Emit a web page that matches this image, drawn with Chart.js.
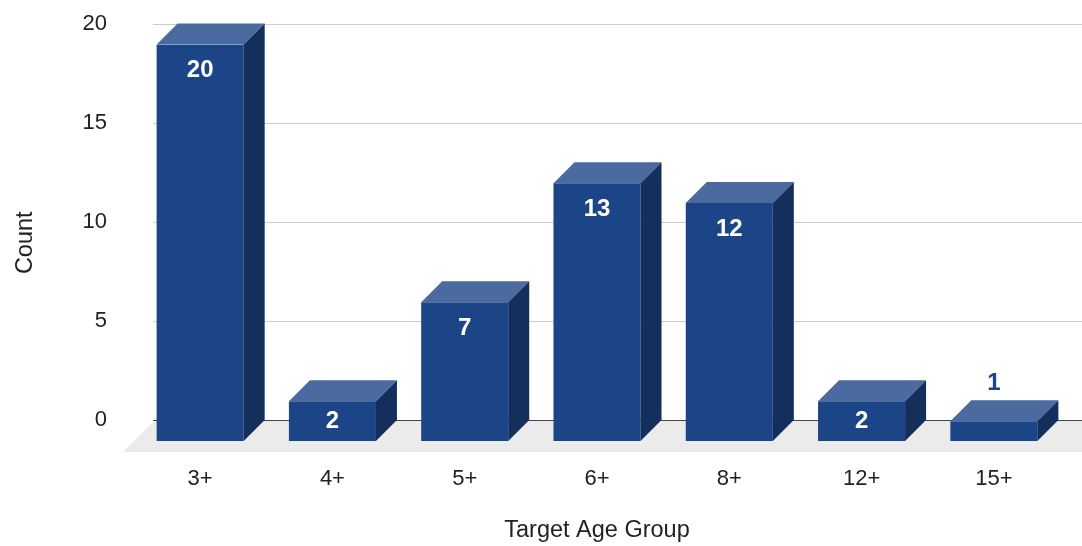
<!DOCTYPE html>
<html>
<head>
<meta charset="utf-8">
<script src="https://cdn.jsdelivr.net/npm/chart.js@4.4.1/dist/chart.umd.min.js"></script>
<style>
  html, body { margin: 0; padding: 0; background: #fff; }
</style>
</head>
<body>
<canvas id="ageChart" width="1082" height="546"></canvas>
<script>
const categories = ['3+', '4+', '5+', '6+', '8+', '12+', '15+'];
const counts = [20, 2, 7, 13, 12, 2, 1];
const yTicks = [0, 5, 10, 15, 20];

const FRONT = '#1c4587';
const TOP = '#4a6aa0';
const SIDE = '#142f5c';
const DEPTH = 21; // 3d offset of the back plane
const FONT = '"Liberation Sans", Arial, sans-serif';

// floor, gridlines on the back plane, then top and side faces of each bar
const threeD = {
  id: 'threeD',
  beforeDatasetsDraw(chart) {
    const {ctx, chartArea: a, scales: {y}} = chart;
    const zero = y.getPixelForValue(0);
    ctx.save();
    ctx.fillStyle = '#ebebeb';
    ctx.beginPath();
    ctx.moveTo(a.left + DEPTH, zero - DEPTH);
    ctx.lineTo(chart.width + 40, zero - DEPTH);
    ctx.lineTo(chart.width + 8, zero + 11);
    ctx.lineTo(a.left - 11, zero + 11);
    ctx.closePath();
    ctx.fill();
    ctx.lineWidth = 1;
    yTicks.forEach(v => {
      const py = Math.round(y.getPixelForValue(v) - DEPTH) + 0.5;
      ctx.strokeStyle = v === 0 ? '#444444' : '#cccccc';
      ctx.beginPath();
      ctx.moveTo(a.left + DEPTH - 2, py);
      ctx.lineTo(chart.width, py);
      ctx.stroke();
    });
    ctx.restore();
  },
  afterDatasetsDraw(chart) {
    const {ctx} = chart;
    ctx.save();
    chart.getDatasetMeta(0).data.forEach((bar, i) => {
      const {x, y: top, base, width} = bar.getProps(['x', 'y', 'base', 'width'], true);
      const l = x - width / 2, r = x + width / 2;
      // top face
      ctx.fillStyle = TOP;
      ctx.beginPath();
      ctx.moveTo(l, top);
      ctx.lineTo(l + DEPTH, top - DEPTH);
      ctx.lineTo(r + DEPTH, top - DEPTH);
      ctx.lineTo(r, top);
      ctx.closePath();
      ctx.fill();
      // side face
      ctx.fillStyle = SIDE;
      ctx.beginPath();
      ctx.moveTo(r, top);
      ctx.lineTo(r + DEPTH, top - DEPTH);
      ctx.lineTo(r + DEPTH, base - DEPTH);
      ctx.lineTo(r, base);
      ctx.closePath();
      ctx.fill();

      // value label
      const h = base - top;
      ctx.font = 'bold 24px ' + FONT;
      ctx.textAlign = 'center';
      ctx.textBaseline = 'middle';
      if (h > 30) {
        ctx.fillStyle = '#ffffff';
        ctx.fillText(counts[i], x, top + Math.min(26, h / 2));
      } else {
        ctx.fillStyle = FRONT;
        ctx.fillText(counts[i], x, top - DEPTH - 17);
      }
    });
    ctx.restore();
  }
};

new Chart(document.getElementById('ageChart'), {
  type: 'bar',
  data: {
    labels: categories,
    datasets: [{
      label: 'Count',
      data: counts,
      backgroundColor: FRONT,
      borderWidth: 0,
      categoryPercentage: 1,
      barPercentage: 0.658
    }]
  },
  options: {
    responsive: false,
    animation: false,
    layout: { padding: { top: 44.5, right: 22, left: 0, bottom: 0 } },
    plugins: {
      legend: { display: false },
      tooltip: { enabled: false }
    },
    scales: {
      x: {
        grid: { display: false, drawTicks: false },
        border: { display: false },
        ticks: { color: '#222', padding: 25, font: { family: FONT, size: 22 } },
        title: {
          display: true,
          text: 'Target Age Group',
          color: '#222',
          font: { family: FONT, size: 23.5 },
          padding: { top: 0, bottom: 1 }
        },
        afterFit(scale) { scale.height = 105; }
      },
      y: {
        min: 0,
        max: 20,
        grid: { display: false, drawTicks: false },
        border: { display: false },
        ticks: {
          stepSize: 5,
          color: '#222',
          padding: 27,
          labelOffset: -DEPTH,
          font: { family: FONT, size: 22 }
        },
        title: {
          display: true,
          text: 'Count',
          color: '#222',
          font: { family: FONT, size: 23.5 },
          padding: { top: 11, bottom: 0 }
        },
        afterFit(scale) { scale.width = 134; }
      }
    }
  },
  plugins: [threeD]
});
</script>
</body>
</html>
